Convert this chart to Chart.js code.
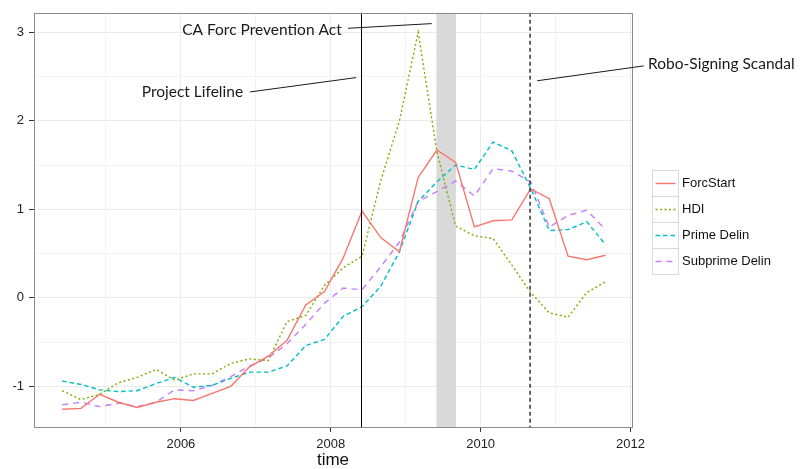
<!DOCTYPE html>
<html>
<head>
<meta charset="utf-8">
<script src="https://cdn.jsdelivr.net/npm/chart.js@4.4.0/dist/chart.umd.min.js"></script>
<style>
  html, body { margin: 0; padding: 0; background: #fff; }
</style>
</head>
<body>
<canvas id="chart" width="809" height="469"></canvas>
<script>
// quarterly observations
const quarters = ['2004-06','2004-09','2004-12','2005-03','2005-06','2005-09','2005-12','2006-03','2006-06','2006-09',
  '2006-12','2007-03','2007-06','2007-09','2007-12','2008-03','2008-06','2008-09','2008-12','2009-03',
  '2009-06','2009-09','2009-12','2010-03','2010-06','2010-09','2010-12','2011-03','2011-06','2011-09'];

const forcStart = [-1.26,-1.25,-1.09,-1.18,-1.24,-1.18,-1.14,-1.16,-1.08,-1.00,-0.78,-0.66,-0.48,-0.08,0.07,0.45,0.98,0.68,0.52,1.36,1.67,1.53,0.80,0.87,0.88,1.23,1.12,0.47,0.43,0.48];
const hdi = [-1.05,-1.15,-1.09,-0.96,-0.90,-0.81,-0.93,-0.86,-0.86,-0.74,-0.69,-0.71,-0.27,-0.20,0.14,0.34,0.47,1.32,2.00,3.00,1.65,0.81,0.70,0.67,0.37,0.06,-0.17,-0.22,0.06,0.18];
const primeDelin = [-0.94,-0.98,-1.04,-1.06,-1.05,-0.97,-0.90,-1.01,-0.99,-0.91,-0.84,-0.84,-0.77,-0.54,-0.47,-0.21,-0.10,0.13,0.52,1.09,1.31,1.50,1.45,1.76,1.66,1.24,0.76,0.77,0.86,0.60];
const subprimeDelin = [-1.21,-1.18,-1.23,-1.19,-1.23,-1.18,-1.04,-1.05,-0.99,-0.89,-0.77,-0.68,-0.52,-0.30,-0.06,0.11,0.09,0.35,0.63,1.09,1.20,1.32,1.15,1.46,1.43,1.31,0.80,0.93,0.99,0.77];

const xTicks = [2006, 2008, 2010, 2012];
const xGrid = [2005, 2006, 2007, 2008, 2009, 2010, 2011, 2012];
const yTicks = [-1, 0, 1, 2, 3];
const yGrid = [-1, -0.5, 0, 0.5, 1, 1.5, 2, 2.5, 3];

// events
const projectLifeline = 2008.41;
const roboSigning = 2010.66;
const caForcBand = [2009.41, 2009.67];

const toYear = q => +q.slice(0, 4) + (+q.slice(5, 7) - 1) / 12;
const pts = vals => vals.map((v, i) => ({x: toYear(quarters[i]), y: v}));

const series = [
  {label: 'ForcStart', data: forcStart, color: '#F8766D', dash: []},
  {label: 'HDI', data: hdi, color: '#7CAE00', dash: [2, 2.5]},
  {label: 'Prime Delin', data: primeDelin, color: '#00BFC4', dash: [4.5, 3]},
  {label: 'Subprime Delin', data: subprimeDelin, color: '#C77CFF', dash: [6, 5]}
];

const tickFont = {family: '"Liberation Sans", Arial, sans-serif', size: 13};

const overlay = {
  id: 'overlay',
  beforeDatasetsDraw(chart) {
    const {ctx, chartArea: a, scales: {x}} = chart;
    const x0 = x.getPixelForValue(caForcBand[0]);
    const x1 = x.getPixelForValue(caForcBand[1]);
    ctx.save();
    ctx.fillStyle = '#D9D9D9';
    ctx.fillRect(x0, a.top, x1 - x0, a.bottom - a.top);
    ctx.restore();
  },
  afterDatasetsDraw(chart) {
    const {ctx, chartArea: a, scales: {x}} = chart;
    ctx.save();
    // solid event line
    let px = Math.round(x.getPixelForValue(projectLifeline)) + 0.5;
    ctx.strokeStyle = '#000';
    ctx.lineWidth = 1;
    ctx.beginPath(); ctx.moveTo(px, a.top); ctx.lineTo(px, a.bottom); ctx.stroke();
    // dashed event line
    px = x.getPixelForValue(roboSigning);
    ctx.strokeStyle = '#333';
    ctx.lineWidth = 1.5;
    ctx.setLineDash([4, 3]);
    ctx.beginPath(); ctx.moveTo(px, a.top); ctx.lineTo(px, a.bottom); ctx.stroke();
    ctx.setLineDash([]);
    // panel border
    ctx.strokeStyle = '#8C8C8C';
    ctx.lineWidth = 1;
    ctx.strokeRect(Math.round(a.left) + 0.5, Math.round(a.top) + 0.5, Math.round(a.right - a.left), Math.round(a.bottom - a.top));
    ctx.restore();
  },
  afterDraw(chart) {
    const {ctx, chartArea: a, scales: {x, y}} = chart;
    const P = (tx, ty) => [x.getPixelForValue(tx), y.getPixelForValue(ty)];
    ctx.save();
    // annotations: label anchor and leader line, in data units
    const notes = [
      {text: 'CA Forc Prevention Act', at: [2008.147, 3.03], align: 'right', from: [2008.23, 3.045], to: [2009.347, 3.098]},
      {text: 'Project Lifeline', at: [2006.83, 2.325], align: 'right', from: [2006.924, 2.326], to: [2008.34, 2.488]},
      {text: 'Robo-Signing Scandal', at: [2012.235, 2.64], align: 'left', from: [2010.755, 2.452], to: [2012.177, 2.62]}
    ];
    ctx.font = '15.5px Lato, "Open Sans", sans-serif';
    ctx.fillStyle = '#1A1A1A';
    ctx.strokeStyle = '#1A1A1A';
    ctx.lineWidth = 1;
    ctx.textBaseline = 'middle';
    notes.forEach(n => {
      const [tx, ty] = P(...n.at);
      ctx.textAlign = n.align;
      ctx.fillText(n.text, tx, ty);
      const [fx, fy] = P(...n.from);
      const [ex, ey] = P(...n.to);
      ctx.beginPath(); ctx.moveTo(fx, fy); ctx.lineTo(ex, ey); ctx.stroke();
    });
    // legend
    const lx = a.right + 20.5;
    let ly = 170.5;
    ctx.font = '13px "Liberation Sans", Arial, sans-serif';
    ctx.textAlign = 'left';
    series.forEach(s => {
      ctx.fillStyle = '#FFFFFF';
      ctx.fillRect(lx, ly, 26, 26);
      ctx.strokeStyle = '#D9D9D9';
      ctx.lineWidth = 1;
      ctx.strokeRect(lx, ly, 26, 26);
      ctx.strokeStyle = s.color;
      ctx.lineWidth = 1.4;
      ctx.setLineDash(s.dash);
      ctx.beginPath(); ctx.moveTo(lx + 3, ly + 13); ctx.lineTo(lx + 23, ly + 13); ctx.stroke();
      ctx.setLineDash([]);
      ctx.fillStyle = '#111';
      ctx.fillText(s.label, lx + 29.5, ly + 13);
      ly += 26;
    });
    ctx.restore();
  }
};

new Chart(document.getElementById('chart'), {
  type: 'line',
  data: {
    datasets: series.map(s => ({
      label: s.label,
      data: pts(s.data),
      borderColor: s.color,
      backgroundColor: s.color,
      borderWidth: 1.4,
      borderDash: s.dash,
      pointRadius: 0,
      tension: 0,
      fill: false
    }))
  },
  options: {
    responsive: false,
    animation: false,
    devicePixelRatio: 1,
    layout: {padding: {top: 9, right: 177, left: 0, bottom: 0}},
    plugins: {legend: {display: false}, tooltip: {enabled: false}},
    scales: {
      x: {
        type: 'linear',
        min: 2004.04,
        max: 2012.02,
        afterBuildTicks: s => { s.ticks = xGrid.map(v => ({value: v})); },
        afterFit: s => { s.height = 42; },
        border: {display: false},
        grid: {
          color: c => (c.tick && xTicks.includes(c.tick.value)) ? '#EBEBEB' : '#F3F3F3',
          tickColor: c => (c.tick && xTicks.includes(c.tick.value)) ? '#333' : 'rgba(0,0,0,0)',
          tickLength: 5,
          lineWidth: 1
        },
        ticks: {
          callback: v => xTicks.includes(v) ? String(v) : '',
          font: tickFont, color: '#222', padding: 5, maxRotation: 0, autoSkip: false
        },
        title: {
          display: true, text: 'time', color: '#111',
          font: {family: '"Liberation Sans", Arial, sans-serif', size: 17, lineHeight: 1},
          padding: {top: 0, bottom: 0}
        }
      },
      y: {
        min: -1.46,
        max: 3.22,
        afterBuildTicks: s => { s.ticks = yGrid.map(v => ({value: v})); },
        afterFit: s => { s.width = 34; },
        border: {display: false},
        grid: {
          color: c => (c.tick && yTicks.includes(c.tick.value)) ? '#EBEBEB' : '#F3F3F3',
          tickColor: c => (c.tick && yTicks.includes(c.tick.value)) ? '#333' : 'rgba(0,0,0,0)',
          tickLength: 5,
          lineWidth: 1
        },
        ticks: {
          callback: v => yTicks.includes(v) ? String(v) : '',
          font: tickFont, color: '#222', padding: 5, autoSkip: false
        }
      }
    }
  },
  plugins: [overlay]
});
</script>
</body>
</html>
